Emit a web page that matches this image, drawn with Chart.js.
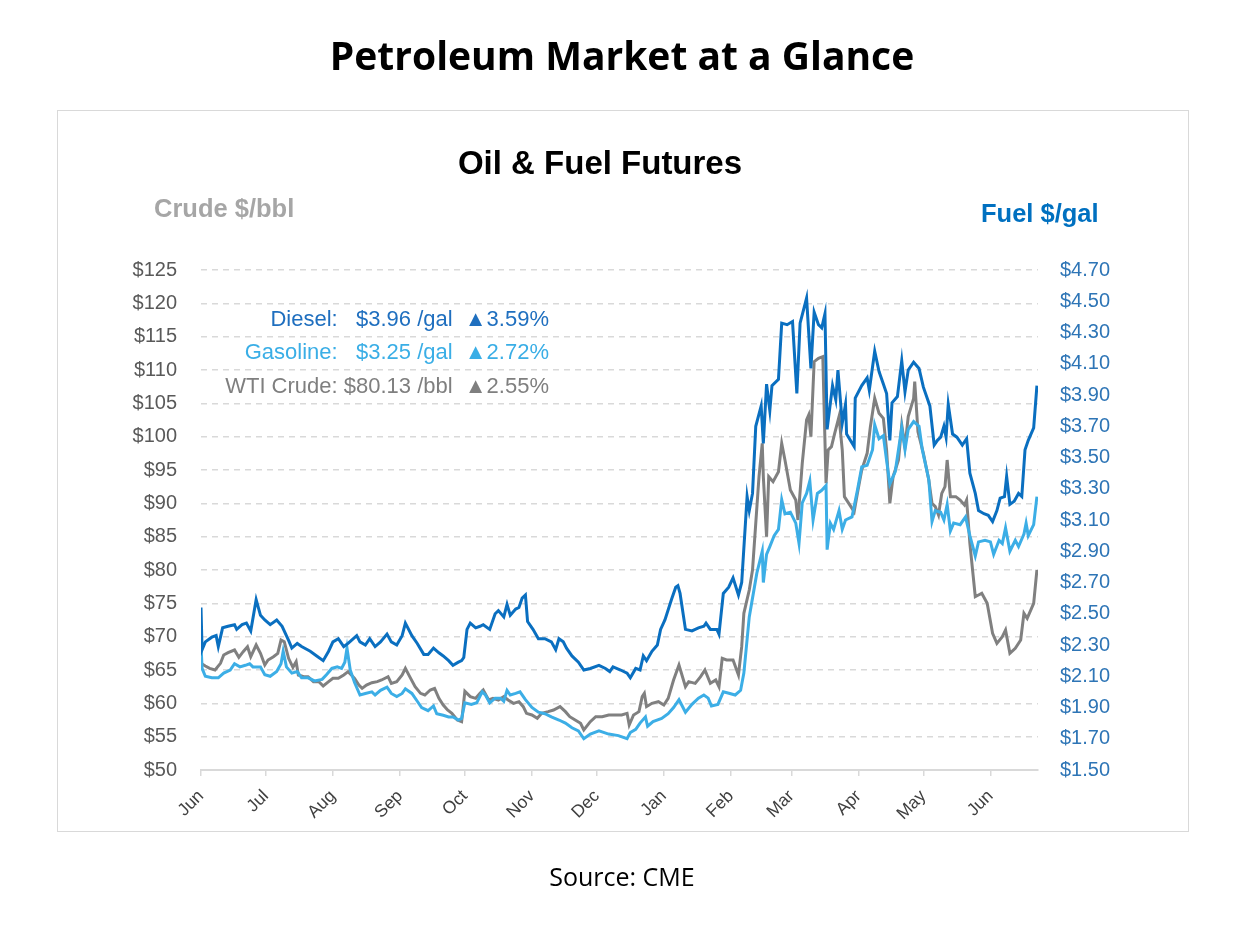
<!DOCTYPE html>
<html><head><meta charset="utf-8">
<script src="https://cdn.jsdelivr.net/npm/chart.js@4.4.1/dist/chart.umd.min.js"></script>
<style>
body{margin:0;background:#fff;}
#wrap{position:relative;width:1258px;height:934px;overflow:hidden;font-family:"Liberation Sans",Arial,sans-serif;}
#box{position:absolute;left:57px;top:110px;width:1132px;height:722px;border:1.5px solid #d9d9d9;box-sizing:border-box;}
canvas{position:absolute;left:0;top:0;}
.t{position:absolute;white-space:pre;line-height:1;}
</style></head><body>
<div id="wrap">
<div id="box"></div>
<canvas id="c" width="1258" height="934"></canvas>
<div class="t" id="title" style="left:0;width:1244px;text-align:center;top:35px;font-family:'Open Sans';font-weight:700;font-size:39px;color:#000;">Petroleum Market at a Glance</div>
<div class="t" style="left:300px;width:600px;text-align:center;top:146px;font-weight:700;font-size:33px;color:#000;">Oil &amp; Fuel Futures</div>
<div class="t" style="left:154px;top:196px;font-weight:700;font-size:25.5px;color:#a6a6a6;">Crude $/bbl</div>
<div class="t" style="left:981px;top:201px;font-weight:700;font-size:25.5px;color:#0070c0;">Fuel $/gal</div>
<div class="t" style="right:709px;top:308px;font-size:22px;color:#1f6fbf;">Diesel:   $3.96 /gal  ▲3.59%</div>
<div class="t" style="right:709px;top:341px;font-size:22px;color:#3aaee6;">Gasoline:   $3.25 /gal  ▲2.72%</div>
<div class="t" style="right:709px;top:375px;font-size:22px;color:#7f7f7f;">WTI Crude: $80.13 /bbl  ▲2.55%</div>
<div class="t" style="left:0;width:1244px;text-align:center;top:864px;font-family:'Open Sans';font-size:25px;color:#000;">Source: CME</div>
</div>
<script>
const monthDays=[0,30,61,92,122,153,183,214,245,273,304,334,365];
const monthLabels=['Jun','Jul','Aug','Sep','Oct','Nov','Dec','Jan','Feb','Mar','Apr','May','Jun'];
const crudeTicks=[50,55,60,65,70,75,80,85,90,95,100,105,110,115,120,125];
const fuelTicks=[1.5,1.7,1.9,2.1,2.3,2.5,2.7,2.9,3.1,3.3,3.5,3.7,3.9,4.1,4.3,4.5,4.7];

const dieselDays=[0,0.5,2,5,7,8,10,12.5,15.5,16.5,
19,21,23,25.5,27.5,29.5,32,35,37.5,40.5,
42,44.5,46.5,50.5,53.5,56.5,59,61,63.5,66,
68,72,73.5,76,78,80.5,83,86,88,90.5,
93,94.5,97.5,100,103,105,107.5,110,112,114.5,
116.5,119,120.5,121.5,123,124.5,127,129,130.5,133.5,
136,137.5,140,141.5,143,145.5,147,148.5,150,151,
153.5,156,159,162,164,165.5,167.5,169,171.5,174.5,
177,180,184,187,189,190.5,194,197,198.5,201,
203,204.5,206,208.5,211,212.5,214.5,217.5,219.5,220.5,
221.5,224,227,230,232.5,233.5,235.5,238.5,239.5,241.5,
244,246,248.5,250,252.5,253.5,255,256.5,259,260,
261.5,263,264,267,268.5,271,273.5,275.5,277,280,
282,283.5,285.5,287,288.5,289.5,292,293.5,294.5,296.5,
298,298.5,302,302.5,305.5,308,309,311.5,313.5,315.5,
317,318.5,319.5,322,324,325.5,327,329.5,332,334,
337,339,340.5,342,343.5,344.5,345.5,347.5,349.5,352,
354,355.5,358,359.5,362,364,366,368,369.5,371.5,
372.5,374,376,378,379.5,381,382.5,385,386.5];
const dieselPrice=[2.54,2.27,2.32,2.35,2.36,2.29,2.41,2.42,2.43,2.40,
2.43,2.44,2.39,2.59,2.49,2.46,2.43,2.46,2.42,2.33,
2.28,2.31,2.29,2.26,2.23,2.20,2.26,2.32,2.34,2.29,
2.31,2.36,2.32,2.30,2.34,2.29,2.32,2.37,2.32,2.30,
2.36,2.44,2.36,2.31,2.24,2.24,2.28,2.25,2.23,2.20,
2.17,2.19,2.20,2.22,2.40,2.44,2.41,2.42,2.43,2.40,
2.50,2.52,2.48,2.56,2.49,2.53,2.54,2.60,2.62,2.45,
2.40,2.34,2.34,2.32,2.27,2.34,2.32,2.28,2.23,2.19,
2.14,2.15,2.17,2.15,2.13,2.16,2.14,2.12,2.09,2.15,
2.14,2.23,2.20,2.26,2.30,2.40,2.46,2.59,2.67,2.68,
2.63,2.40,2.39,2.41,2.42,2.44,2.40,2.40,2.37,2.63,
2.67,2.73,2.62,2.70,3.25,3.16,3.27,3.70,3.83,3.59,
3.97,3.80,3.96,4.00,4.36,4.35,4.37,3.91,4.36,4.52,
4.07,4.43,4.35,4.33,4.42,3.68,3.96,3.87,4.06,3.72,
3.84,3.65,3.57,3.88,3.96,4.01,3.93,4.18,4.05,3.97,
3.91,3.61,3.85,3.89,4.12,3.92,4.06,4.11,4.07,3.95,
3.83,3.58,3.61,3.63,3.70,3.63,3.84,3.65,3.63,3.58,
3.62,3.40,3.27,3.16,3.14,3.13,3.09,3.16,3.24,3.25,
3.38,3.20,3.22,3.27,3.25,3.55,3.61,3.69,3.96];

const gasolineDays=[0,0.5,2,5,8,10.5,13.5,15.5,18,20.5,
22.5,24,27.5,29.5,32,35,37,38,39.5,42,
44.5,46.5,49.5,52.5,56,58,60.5,63,65,66.5,
67.5,69,71,73.5,76,79,80.5,83,86,88,
90.5,93,94.5,97.5,100,102,105,107.5,109,112,
114.5,116.5,119,120.5,122,125,127.5,130,131.5,133.5,
136,138.5,140,141.5,143,145.5,147.5,150,153,156,
159,162,165.5,168.5,171.5,174.5,177,180,184,188.5,
193,197,198.5,201,203,205.5,206.5,209,213,216,
218.5,221,224,227,230,232.5,234.5,236,239,241.5,
244.5,247,249.5,251,253.5,255,257,259.5,260,261.5,
263,265,267,268.5,270,272.5,275,276.5,278,280,
281.5,283,285,287,289,289.5,291,292.5,295,296.5,
298,301,303.5,305.5,308,310.5,311.5,313.5,315.5,317,
318.5,321,324,325.5,327,329.5,332,333.5,336.5,338,
339.5,342,343.5,345,346.5,348,351,353.5,355.5,358,
359.5,362.5,365,366.5,369,370.5,372,374,376.5,378,
380.5,381.5,382.5,385,386.5];
const gasolinePrice=[2.30,2.15,2.10,2.09,2.09,2.12,2.14,2.18,2.16,2.17,
2.18,2.16,2.16,2.11,2.10,2.13,2.18,2.26,2.16,2.12,
2.13,2.09,2.09,2.07,2.08,2.11,2.15,2.16,2.15,2.19,
2.28,2.14,2.06,1.98,1.99,2.00,1.98,2.01,2.03,1.99,
1.97,1.99,2.02,1.99,1.94,1.90,1.88,1.91,1.86,1.85,
1.84,1.84,1.82,1.83,1.93,1.92,1.93,2.00,1.98,1.93,
1.96,1.96,1.94,2.01,1.98,1.99,2.00,1.95,1.90,1.87,
1.86,1.84,1.82,1.80,1.77,1.75,1.70,1.73,1.75,1.73,
1.72,1.70,1.74,1.76,1.80,1.84,1.78,1.81,1.83,1.86,
1.90,1.95,1.87,1.92,1.96,1.98,1.96,1.91,1.92,2.00,
1.99,1.98,2.01,2.12,2.48,2.60,2.76,2.90,2.70,2.88,
2.93,3.00,3.04,3.23,3.14,3.15,3.08,2.95,3.21,3.27,
3.35,3.10,3.27,3.29,3.32,2.91,3.08,3.04,3.16,3.04,
3.10,3.12,3.29,3.44,3.45,3.55,3.71,3.62,3.64,3.48,
3.33,3.41,3.69,3.55,3.68,3.73,3.70,3.55,3.36,3.09,
3.16,3.15,3.10,3.20,3.03,3.08,3.07,3.12,3.00,2.87,
2.96,2.97,2.96,2.88,2.97,2.95,3.05,2.90,2.97,2.93,
3.01,3.08,3.00,3.07,3.25];

const crudeDays=[0,2,4,6.5,9,10.5,12.5,15.5,17.5,19.5,
21.5,23,25.5,27.5,29.5,31,33.5,35.5,37,38.5,
40.5,42.5,44,45,47.5,49.5,52,54.5,56.5,59,
61,63.5,66,68,69.5,71,73,74.5,76.5,79,
81.5,83.5,86.5,88,90.5,93,94.5,96.5,99,101.5,
103.5,106,108,110,112,114,116,118.5,120.5,122,
124.5,127,129,130.5,133,135,137.5,140,142,144.5,
147,149,150.5,153,155.5,157.5,160.5,163,166,168.5,
170.5,173,175.5,177,180,182.5,185.5,188.5,191.5,194.5,
197,198,200,202.5,204,205,206,208.5,211.5,214,
216,218.5,221,224,225.5,228.5,231,233,235.5,238,
239.5,241,243,246,248.5,250,251,253.5,255,256.5,
258,259.5,260,261.5,262.5,264.5,267,268.5,270,272.5,
275,276,278,280,281,282,283.5,285.5,287.5,289,
290,291.5,293,295,296.5,297.5,299.5,302,303.5,305.5,
308,309.5,311.5,313.5,315.5,317,318.5,320,322.5,324,
325.5,327,329.5,330,331.5,334,336.5,338,339.5,341,
342.5,344,345,346.5,349,351,353,354,355.5,358,
359.5,361,363.5,366,368,370.5,372,374,376.5,379,
380.5,382,384,385,386.5];
const crudePrice=[66.0,65.6,65.25,65.0,66.0,67.25,67.6,68.0,66.9,67.75,
68.5,67.0,68.75,67.5,65.75,66.5,67.0,67.5,69.5,69.25,
66.75,65.4,66.25,64.25,64.0,64.0,63.25,63.25,62.6,63.25,
63.75,63.75,64.25,64.75,64.25,63.75,62.75,62.25,62.75,63.1,
63.25,63.5,64.0,63.0,63.25,64.25,65.25,64.0,62.5,61.5,
61.25,62.0,62.25,60.75,59.75,59.0,58.5,57.5,57.25,61.8,
61.0,60.75,61.5,62.0,60.5,60.75,60.5,61.0,60.5,60.0,
60.25,59.5,58.5,58.25,57.75,58.5,58.75,59.0,59.5,58.75,
58.0,57.5,57.0,56.0,57.25,58.0,58.0,58.25,58.25,58.25,
58.5,56.75,58.25,58.75,61.0,61.5,59.5,60.0,60.25,59.75,
60.75,63.5,65.75,62.5,63.25,63.0,64.0,65.0,63.0,63.5,
62.5,66.75,66.5,66.5,64.25,68.5,73.5,77.0,80.0,87.0,
94.0,99.0,94.0,85.0,94.0,93.25,94.75,99.0,96.5,92.0,
90.5,87.5,96.0,102.5,103.25,100.0,111.25,111.75,112.0,93.0,
98.0,98.5,100.5,103.0,98.0,91.0,90.0,88.75,91.5,95.0,
97.5,101.5,105.75,103.5,102.75,98.0,90.0,94.0,96.5,101.75,
98.5,103.0,105.75,108.25,100.75,97.5,93.5,90.0,89.5,88.25,
91.5,92.5,96.5,91.0,91.0,90.5,89.75,90.5,84.0,76.0,
76.25,76.5,75.0,70.5,69.0,70.0,71.0,67.5,68.25,69.5,
73.5,72.75,74.25,75.0,80.0];

function pts(d,v){return d.map((x,i)=>({x:x,y:v[i]}));}
const FONT='"Liberation Sans", Arial, sans-serif';

new Chart(document.getElementById('c'),{
  type:'line',
  data:{datasets:[
    {label:'Diesel',data:pts(dieselDays,dieselPrice),yAxisID:'yR',borderColor:'#0a6fc0',borderWidth:3,pointRadius:0,tension:0},
    {label:'Gasoline',data:pts(gasolineDays,gasolinePrice),yAxisID:'yR',borderColor:'#3caee6',borderWidth:3,pointRadius:0,tension:0},
    {label:'WTI Crude',data:pts(crudeDays,crudePrice),yAxisID:'yL',borderColor:'#808080',borderWidth:3,pointRadius:0,tension:0}
  ]},
  options:{
    responsive:false,animation:false,devicePixelRatio:1,
    layout:{padding:{top:270,left:0,right:0,bottom:0}},
    plugins:{legend:{display:false},tooltip:{enabled:false},title:{display:false}},
    scales:{
      x:{type:'linear',min:0,max:387,
        afterBuildTicks:a=>{a.ticks=monthDays.map(v=>({value:v}));},
        afterFit:s=>{s.height=164;},
        ticks:{autoSkip:false,minRotation:45,maxRotation:45,padding:10,color:'#404040',font:{family:FONT,size:17.5},
          callback:(v,i)=>monthLabels[i]},
        grid:{drawOnChartArea:false,drawTicks:true,tickLength:6,color:'#d9d9d9',lineWidth:1.5},
        border:{display:true,color:'#d9d9d9',width:2}},
      yL:{position:'left',min:50,max:125,
        afterBuildTicks:a=>{a.ticks=crudeTicks.map(v=>({value:v}));},
        afterFit:s=>{s.width=201;},
        ticks:{padding:24,color:'#595959',font:{family:FONT,size:20},callback:v=>'$'+v},
        grid:{color:'#d9d9d9',lineWidth:1.5,drawTicks:false},
        border:{display:false,dash:[6,5]}},
      yR:{position:'right',min:1.5,max:4.7,
        afterBuildTicks:a=>{a.ticks=fuelTicks.map(v=>({value:v}));},
        afterFit:s=>{s.width=220;},
        ticks:{padding:22,color:'#2e75b6',font:{family:FONT,size:20},callback:v=>'$'+Number(v).toFixed(2)},
        grid:{display:false,drawTicks:false},
        border:{display:false}}
    }
  }
});
</script>
</body></html>
